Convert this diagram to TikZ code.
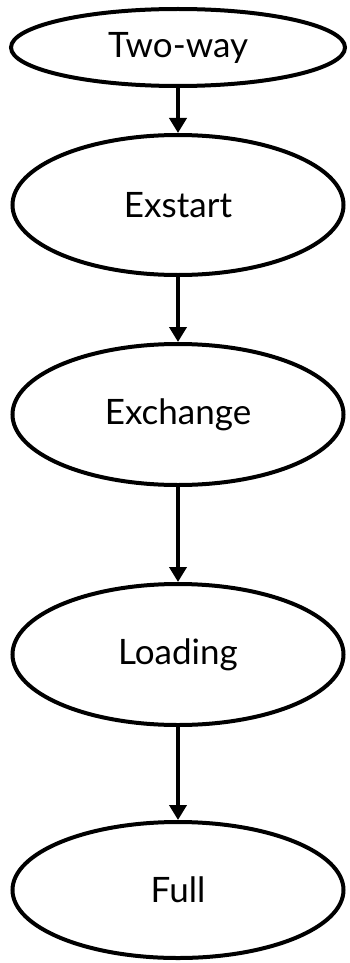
\documentclass[tikz,border=0pt]{standalone}
\usepackage{fontspec}
\setmainfont{Lato}
\usetikzlibrary{shapes.geometric,arrows.meta}
\tikzset{
  state/.style={ellipse, draw, line width=4pt, inner sep=0pt, font=\fontsize{35}{41}\selectfont, minimum width=331pt},
  flow/.style={line width=4pt, -{Triangle[width=17pt,length=15pt]}}
}
\begin{document}
\begin{tikzpicture}[x=1pt,y=1pt]
\useasboundingbox (0,0) rectangle (349,-963);
\node[state, minimum width=334pt, minimum height=77pt] (tw) at (178,-47.5) {Two-way};
\node[state, minimum height=140pt] (es) at (178,-205) {Exstart};
\node[state, minimum height=141pt] (ex) at (178,-414.5) {Exchange};
\node[state, minimum height=141pt] (lo) at (178,-654.5) {Loading};
\node[state, minimum height=136pt] (fu) at (178,-890) {Full};
\draw[flow] (tw) -- (es);
\draw[flow] (es) -- (ex);
\draw[flow] (ex) -- (lo);
\draw[flow] (lo) -- (fu);
\end{tikzpicture}
\end{document}
